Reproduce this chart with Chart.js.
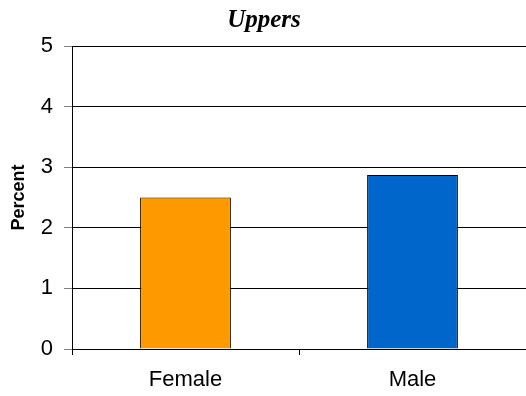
<!DOCTYPE html>
<html>
<head>
<meta charset="utf-8">
<script src="https://cdn.jsdelivr.net/npm/chart.js@4"></script>
<style>
  html, body { margin: 0; padding: 0; background: #fff; }
  #wrap { width: 526px; height: 396px; }
</style>
</head>
<body>
<div id="wrap"><canvas id="mycanvas" width="526" height="396"></canvas></div>
<script>
var categories = ["Female", "Male"];
var percent = [2.5, 2.87];
var barColors = ["#FF9900", "#0066CC"];
var yTicks = [0, 1, 2, 3, 4, 5];

var ctx = document.getElementById("mycanvas");

var chartdata = {
	labels: categories,
	datasets: [
		{
			data: percent,
			backgroundColor: barColors,
			borderColor: "#000000",
			borderWidth: 1,
			categoryPercentage: 0.4,
			barPercentage: 1
		}
	]
};

var new_chart = new Chart(ctx, {
	type: "bar",
	data: chartdata,
	options: {
		responsive: false,
		animation: false,
		layout: { padding: { left: 0, right: -2, top: 0, bottom: 0 } },
		plugins: {
			legend: { display: false },
			tooltip: { enabled: false },
			title: {
				display: true,
				text: "Uppers",
				color: "#000",
				font: { family: "Liberation Serif", size: 25, style: "italic", weight: "bold" },
				padding: { top: 6, bottom: 10 }
			}
		},
		scales: {
			x: {
				grid: { display: true, offset: true, drawOnChartArea: false, drawTicks: true, tickLength: 6, color: "#000" },
				border: { display: true, color: "#000", width: 1 },
				ticks: { color: "#000", font: { family: "Liberation Sans", size: 22 }, padding: 12 },
				afterFit: function(scale) { scale.height = 47; }
			},
			y: {
				min: 0,
				max: 5,
				afterBuildTicks: function(scale) {
					scale.ticks = yTicks.map(function(v) { return { value: v }; });
				},
				grid: { color: "#000", lineWidth: 1, tickLength: 8, tickColor: "#808080" },
				border: { display: true, color: "#000", width: 1 },
				ticks: { color: "#000", font: { family: "Liberation Sans", size: 22 }, padding: 11 },
				title: {
					display: true,
					text: "Percent",
					color: "#000",
					font: { family: "Liberation Sans", size: 18, weight: "bold" },
					padding: { top: 8, bottom: 0 }
				},
				afterFit: function(scale) { scale.width = 72; }
			}
		}
	}
});
</script>
</body>
</html>
